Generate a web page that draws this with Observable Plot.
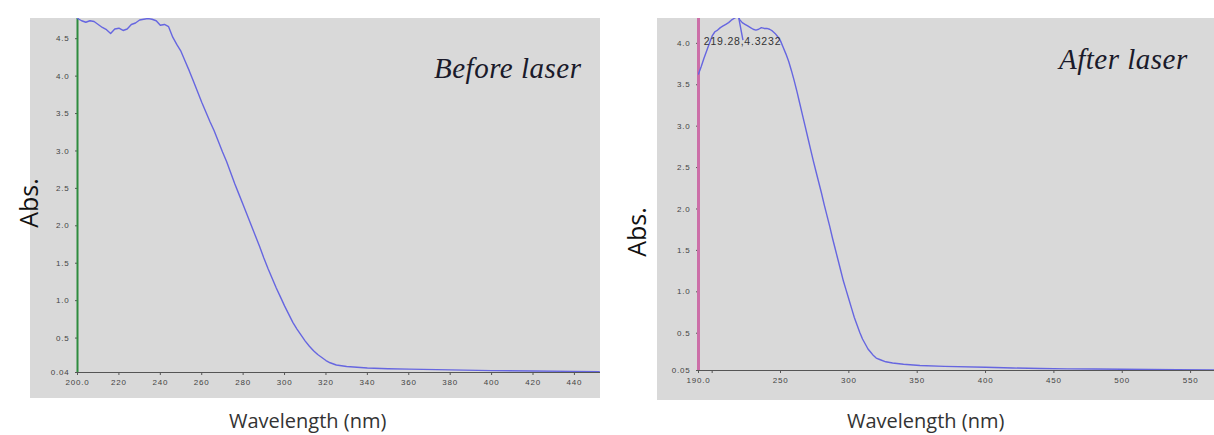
<!DOCTYPE html>
<html>
<head>
<meta charset="utf-8">
<script src="https://cdn.jsdelivr.net/npm/d3@7"></script>
<script src="https://cdn.jsdelivr.net/npm/@observablehq/plot@0.6"></script>
<style>
  html, body { margin: 0; padding: 0; background: #ffffff; }
  #root { position: relative; width: 1214px; height: 435px; overflow: hidden; background: #fff; }
  .panel { position: absolute; background: #d9d9d9; }
  .plotbox { position: absolute; }
  .plotbox svg { display: block; background: transparent; }
  .ylab { position: absolute; font-family: "Open Sans", sans-serif; font-size: 25px; color: #111;
          transform: rotate(-90deg); transform-origin: center center; white-space: nowrap; }
  .xlab { position: absolute; font-family: "Open Sans", sans-serif; font-size: 20px; color: #333; white-space: nowrap; }
  .title { position: absolute; font-family: "Liberation Serif", serif; font-style: italic; font-size: 29px; color: #1a1a2a; white-space: nowrap; letter-spacing: 0.5px; }
</style>
</head>
<body>
<div id="root"></div>
<script>
// ---------- Data: Before laser ----------
const beforeWavelength = [200,202,204,206,208,210,212,214,216,218,220,222,224,226,228,230,232,234,236,238,240,242,244,246,248,250,252,254,256,258,260,262,264,266,268,270,272,274,276,278,280,282,284,286,288,290,292,294,296,298,300,302,304,306,308,310,312,314,316,318,320,322,325,330,340,350,360,380,400,420,440,452];
const beforeAbs = [4.77,4.74,4.72,4.74,4.73,4.69,4.65,4.62,4.57,4.63,4.64,4.61,4.63,4.69,4.71,4.75,4.76,4.77,4.76,4.74,4.68,4.69,4.66,4.52,4.42,4.33,4.2,4.07,3.93,3.79,3.65,3.52,3.39,3.27,3.13,2.99,2.86,2.71,2.56,2.42,2.28,2.14,2.0,1.86,1.72,1.57,1.43,1.3,1.17,1.05,0.93,0.82,0.71,0.62,0.54,0.46,0.39,0.33,0.28,0.24,0.2,0.17,0.14,0.12,0.1,0.09,0.085,0.075,0.065,0.06,0.055,0.052];

// ---------- Data: After laser ----------
const afterWavelength = [190,192,194,196,198,200,202,204,206,208,210,212,214,216,218,219.28,220,222,224,226,228,230,232,234,236,238,240,242,244,246,248,250,252,254,256,258,260,262,264,266,268,270,272,274,276,278,280,282,284,286,288,290,292,294,296,298,300,302,304,306,308,310,312,314,316,318,320,323,327,332,340,352,370,400,420,440,460,480,500,520,540,567];
const afterAbs = [3.63,3.72,3.82,3.91,4.0,4.09,4.14,4.16,4.19,4.21,4.23,4.25,4.28,4.3,4.32,4.3232,4.29,4.25,4.23,4.21,4.19,4.17,4.16,4.17,4.19,4.18,4.18,4.17,4.15,4.12,4.08,4.03,3.95,3.87,3.78,3.67,3.55,3.42,3.28,3.14,3.0,2.86,2.72,2.58,2.45,2.32,2.19,2.05,1.92,1.79,1.65,1.52,1.39,1.26,1.13,1.02,0.91,0.8,0.69,0.6,0.51,0.43,0.37,0.31,0.27,0.23,0.2,0.18,0.155,0.14,0.125,0.11,0.1,0.09,0.08,0.075,0.07,0.068,0.065,0.062,0.06,0.058];

// ---------- Ticks ----------
const beforeXTicks = [200,220,240,260,280,300,320,340,360,380,400,420,440];
const beforeYTicks = [0.04,0.5,1.0,1.5,2.0,2.5,3.0,3.5,4.0,4.5];
const beforeYTickLabels = ["0.04","0.5","1.0","1.5","2.0","2.5","3.0","3.5","4.0","4.5"];
const afterXTicks = [190,200,250,300,350,400,450,500,550];
const afterXTickLabels = ["190.0","","250","300","350","400","450","500","550"];
const afterYTicks = [0.05,0.5,1.0,1.5,2.0,2.5,3.0,3.5,4.0];
const afterYTickLabels = ["0.05","0.5","1.0","1.5","2.0","2.5","3.0","3.5","4.0"];

// peak annotation
const peakWavelength = [219.28];
const peakAbs = [4.3232];
const peakLabel = ["219.28,4.3232"];
const leaderEndWavelength = [222.5];
const leaderEndAbs = [4.04];

const root = document.getElementById("root");
function addDiv(cls, css, text) {
  const d = document.createElement("div");
  d.className = cls;
  Object.assign(d.style, css);
  if (text != null) d.textContent = text;
  root.appendChild(d);
  return d;
}

const lineColor = "#6666e0";
const tickStyle = {fontFamily: "'Liberation Sans', Arial, sans-serif", fontSize: "8px", color: "#444", background: "transparent", letterSpacing: "0.8px"};

// ---------- Left panel ----------
addDiv("panel", {left: "30px", top: "18px", width: "570px", height: "380px"});
const beforeData = beforeWavelength.map((w, i) => ({w, a: beforeAbs[i]}));
const left = Plot.plot({
  width: 570, height: 380,
  marginLeft: 47, marginTop: 0, marginRight: 0, marginBottom: 26,
  style: tickStyle,
  x: {domain: [200, 452.6], label: null},
  y: {domain: [0.04, 4.77], label: null},
  marks: [
    Plot.ruleY([0.04], {stroke: "#555", strokeWidth: 1.2}),
    Plot.axisX(beforeXTicks, {tickSize: 3, tickPadding: 4, stroke: "#555", fill: "#444",
      tickFormat: d => d === 200 ? "200.0" : String(d)}),
    Plot.axisY(beforeYTicks, {tickSize: 2, tickPadding: 6, stroke: "#555", fill: "#444",
      tickFormat: d => beforeYTickLabels[beforeYTicks.indexOf(d)]}),
    Plot.ruleX([200], {stroke: "#2e8b3e", strokeWidth: 2}),
    Plot.line(beforeData, {x: "w", y: "a", stroke: lineColor, strokeWidth: 1.4, clip: true})
  ]
});
const lb = addDiv("plotbox", {left: "30px", top: "18px"});
lb.appendChild(left);

addDiv("ylab", {left: "3px", top: "186px"}, "Abs.");
addDiv("xlab", {left: "229px", top: "407px"}, "Wavelength (nm)");
addDiv("title", {left: "434px", top: "52px"}, "Before laser");

// ---------- Right panel ----------
addDiv("panel", {left: "657px", top: "18px", width: "557px", height: "382px"});
const afterData = afterWavelength.map((w, i) => ({w, a: afterAbs[i]}));
const peakData = peakWavelength.map((w, i) => ({w, a: peakAbs[i], t: peakLabel[i], w2: leaderEndWavelength[i], a2: leaderEndAbs[i]}));
const right = Plot.plot({
  width: 557, height: 382,
  marginLeft: 41, marginTop: 0, marginRight: 0, marginBottom: 30,
  style: tickStyle,
  x: {domain: [190, 567.5], label: null},
  y: {domain: [0.05, 4.30], label: null},
  marks: [
    Plot.ruleY([0.05], {stroke: "#555", strokeWidth: 1.2}),
    Plot.axisX(afterXTicks, {tickSize: 3, tickPadding: 4, stroke: "#555", fill: "#444",
      tickFormat: d => afterXTickLabels[afterXTicks.indexOf(d)]}),
    Plot.axisY(afterYTicks, {tickSize: 2, tickPadding: 6, stroke: "#555", fill: "#444",
      tickFormat: d => afterYTickLabels[afterYTicks.indexOf(d)]}),
    Plot.ruleX([190], {stroke: "#cc6fa8", strokeWidth: 3}),
    Plot.line(afterData, {x: "w", y: "a", stroke: lineColor, strokeWidth: 1.4, clip: true}),
    Plot.link(peakData, {x1: "w", y1: "a", x2: "w2", y2: "a2", stroke: lineColor, strokeWidth: 1.4, clip: true}),
    Plot.text(peakData, {x: "w", y: "a", text: "t", dx: 4, dy: 28, fontSize: 10.5, fill: "#333",
      fontFamily: "'Liberation Sans', Arial, sans-serif", textAnchor: "middle", lineAnchor: "bottom"})
  ]
});
const rb = addDiv("plotbox", {left: "657px", top: "18px"});
rb.appendChild(right);

addDiv("ylab", {left: "611px", top: "215px"}, "Abs.");
addDiv("xlab", {left: "847px", top: "407px"}, "Wavelength (nm)");
addDiv("title", {left: "1059px", top: "43px"}, "After laser");
</script>
</body>
</html>
